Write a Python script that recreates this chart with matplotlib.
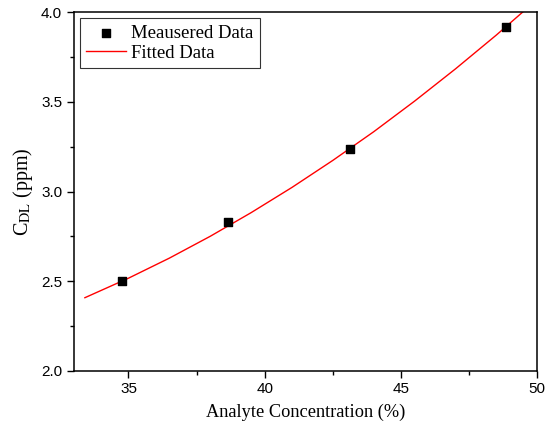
import matplotlib
matplotlib.use("Agg")
import matplotlib.pyplot as plt
from matplotlib.ticker import MultipleLocator

# measured points
conc = [34.77, 38.65, 43.13, 48.85]
cdl = [2.50, 2.83, 3.24, 3.92]

# fitted curve
fit_x = [33.4, 35.0, 36.5, 38.0, 39.5, 41.0, 42.5, 44.0, 45.5, 47.0, 48.5, 49.6]
fit_y = [2.407, 2.516, 2.628, 2.750, 2.882, 3.023, 3.174, 3.334, 3.505, 3.685, 3.874, 4.02]

plt.rcParams['mathtext.fontset'] = 'stix'
serif = 'Liberation Serif'
sans = 'Liberation Sans'

fig = plt.figure(figsize=(5.48, 4.25), dpi=100)
ax = fig.add_axes([0.135, 0.128, 0.8455, 0.8428])

ax.scatter(conc, cdl, marker='s', s=40, color='black', label='Meausered Data', zorder=3)
ax.plot(fit_x, fit_y, color='red', lw=1.0, label='Fitted Data', zorder=2)

ax.set_xlim(33, 50)
ax.set_ylim(2.0, 4.0)
ax.xaxis.set_major_locator(MultipleLocator(5))
ax.xaxis.set_minor_locator(MultipleLocator(2.5))
ax.yaxis.set_major_locator(MultipleLocator(0.5))
ax.yaxis.set_minor_locator(MultipleLocator(0.25))
ax.tick_params(which='both', direction='out', top=False, right=False, width=1)
ax.tick_params(which='major', length=5)
ax.tick_params(which='minor', length=3)
for lab in ax.get_xticklabels() + ax.get_yticklabels():
    lab.set_fontfamily(sans)
    lab.set_fontsize(11)
for sp in ax.spines.values():
    sp.set_linewidth(1.1)

ax.set_xlabel('Analyte Concentration (%)', fontfamily=serif, fontsize=13.2, labelpad=5)
ax.set_ylabel(r'C$_{\mathrm{DL}}$ (ppm)', fontfamily=serif, fontsize=14.5, labelpad=4)

leg = ax.legend(loc='upper left', prop={'family': serif, 'size': 13.5}, frameon=True,
                fancybox=False, edgecolor='black', borderaxespad=0.3,
                handlelength=2.1, handletextpad=0.3, borderpad=0.35, labelspacing=0.15)
leg.get_frame().set_linewidth(0.8)

fig.savefig('out.png', dpi=100)
